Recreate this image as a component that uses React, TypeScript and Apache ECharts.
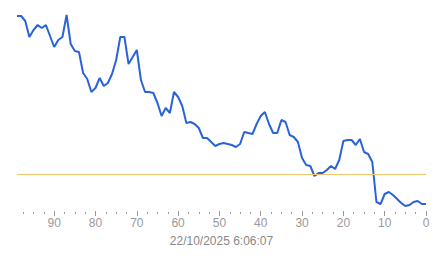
import React, { useEffect, useRef } from "react";
import * as echarts from "echarts";

const ages = [
  99, 98, 97, 96, 95, 94, 93, 92, 91, 90,
  89, 88, 87, 86, 85, 84, 83, 82, 81, 80,
  79, 78, 77, 76, 75, 74, 73, 72, 71, 70,
  69, 68, 67, 66, 65, 64, 63, 62, 61, 60,
  59, 58, 57, 56, 55, 54, 53, 52, 51, 50,
  49, 48, 47, 46, 45, 44, 43, 42, 41, 40,
  39, 38, 37, 36, 35, 34, 33, 32, 31, 30,
  29, 28, 27, 26, 25, 24, 23, 22, 21, 20,
  19, 18, 17, 16, 15, 14, 13, 12, 11, 10,
  9, 8, 7, 6, 5, 4, 3, 2, 1, 0,
];

const values = [
  195, 195, 190, 174, 181, 186, 183, 186, 175, 164,
  171, 174, 196, 167, 160, 159, 138, 132, 119, 123,
  133, 125, 128, 137, 151, 174, 174, 147, 154, 161,
  131, 119, 119, 118, 108, 95, 103, 98, 119, 114,
  105, 88, 89, 87, 83, 73, 73, 69, 65, 67,
  68, 67, 66, 64, 67, 79, 78, 77, 87, 95,
  99, 87, 78, 78, 91, 89, 76, 74, 69, 53,
  46, 45, 35, 38, 38, 41, 45, 42, 51, 70,
  71, 71, 66, 72, 59, 57, 49, 9, 7, 17,
  19, 16, 12, 8, 5, 6, 9, 10, 7, 7,
];

const thresholdValue = 37;
const majorTicks = [0, 10, 20, 30, 40, 50, 60, 70, 80, 90];
const minorTicks = [
  2.5, 5, 7.5, 12.5, 15, 17.5, 22.5, 25, 27.5, 32.5, 35, 37.5,
  42.5, 45, 47.5, 52.5, 55, 57.5, 62.5, 65, 67.5, 72.5, 75, 77.5,
  82.5, 85, 87.5, 92.5, 95, 97.5,
];
const axisTitle = "22/10/2025 6:06:07";

export default function App() {
  const ref = useRef<HTMLDivElement>(null);

  useEffect(() => {
    if (!ref.current) return;
    const chart = echarts.init(ref.current, null, { renderer: "svg" });
    const font = "Liberation Sans, Arial, sans-serif";
    chart.setOption({
      animation: false,
      grid: { left: 17, right: 17, top: 0, bottom: 47 },
      xAxis: [
        {
          type: "value",
          inverse: true,
          min: 0,
          max: 99,
          interval: 10,
          splitLine: { show: false },
          axisLine: { show: false },
          axisTick: {
            show: true,
            length: 5,
            customValues: majorTicks,
            lineStyle: { color: "#999" },
          },
          axisLabel: {
            customValues: majorTicks,
            color: "#999",
            fontSize: 12,
            fontFamily: font,
            margin: 6,
          },
          name: axisTitle,
          nameLocation: "middle",
          nameGap: 24,
          nameTextStyle: { color: "#888", fontSize: 12, fontFamily: font },
        },
        {
          type: "value",
          inverse: true,
          position: "bottom",
          offset: 1,
          min: 0,
          max: 99,
          splitLine: { show: false },
          axisLine: { show: false },
          axisLabel: { show: false },
          axisTick: {
            show: true,
            length: 2,
            customValues: minorTicks,
            lineStyle: { color: "#999" },
          },
        },
      ],
      yAxis: {
        type: "value",
        min: 0,
        max: 211,
        show: false,
        splitLine: { show: false },
      },
      series: [
        {
          type: "line",
          xAxisIndex: 0,
          data: ages.map((a, i) => [a, values[i]]),
          symbol: "none",
          lineStyle: { color: "#2a63d8", width: 2 },
          markLine: {
            silent: true,
            symbol: "none",
            label: { show: false },
            lineStyle: { color: "#f3c46e", width: 1, type: "solid" },
            data: [{ yAxis: thresholdValue }],
          },
        },
      ],
    });
    return () => chart.dispose();
  }, []);

  return (
    <div
      ref={ref}
      style={{ position: "absolute", left: 0, top: 0, width: 443, height: 258 }}
    />
  );
}
